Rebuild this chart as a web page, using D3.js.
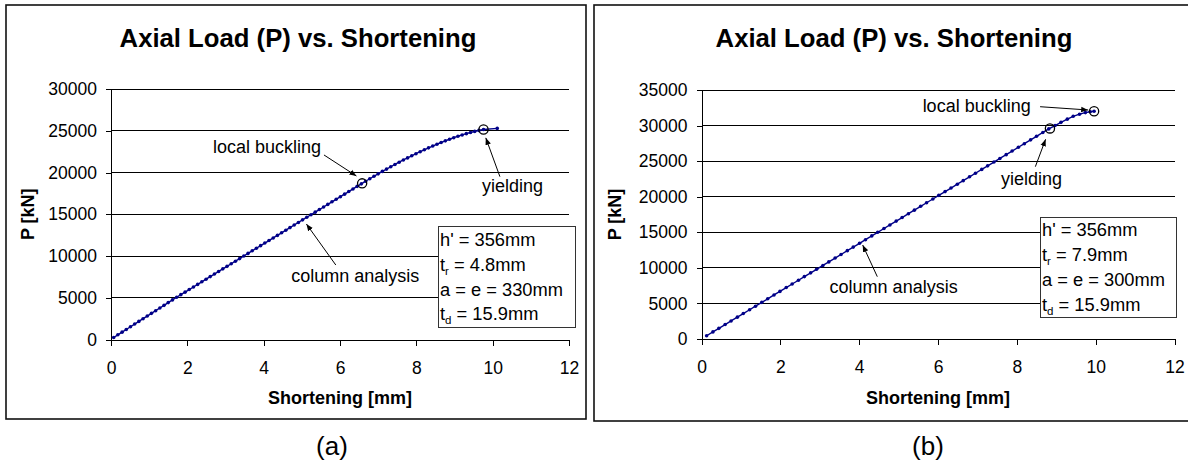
<!DOCTYPE html>
<html lang="en">
<head>
<meta charset="utf-8">
<title>Axial Load (P) vs. Shortening</title>
<script src="https://d3js.org/d3.v7.min.js"></script>
<style>
  body { margin: 0; background: #fff; }
  svg { display: block; font-family: "Liberation Sans", Arial, sans-serif; }
</style>
</head>
<body>
<script>
// (a) shortening [mm] and axial load [kN]
var shortA = [0.07, 0.18, 0.29, 0.40, 0.51, 0.62, 0.73, 0.84, 0.95, 1.06,
  1.17, 1.28, 1.39, 1.50, 1.61, 1.72, 1.83, 1.94, 2.05, 2.16,
  2.27, 2.38, 2.49, 2.60, 2.71, 2.82, 2.93, 3.04, 3.15, 3.26,
  3.37, 3.48, 3.59, 3.70, 3.81, 3.92, 4.03, 4.14, 4.25, 4.36,
  4.47, 4.58, 4.69, 4.80, 4.91, 5.02, 5.13, 5.24, 5.35, 5.46,
  5.57, 5.68, 5.79, 5.90, 6.01, 6.12, 6.23, 6.34, 6.45, 6.56,
  6.67, 6.78, 6.89, 7.00, 7.11, 7.22, 7.33, 7.44, 7.55, 7.66,
  7.77, 7.88, 7.99, 8.10, 8.21, 8.32, 8.43, 8.54, 8.65, 8.76,
  8.87, 8.98, 9.09, 9.20, 9.31, 9.42, 9.53, 9.64, 9.76, 10.12];
var loadA = [240, 560, 880, 1200, 1530, 1850, 2170, 2490, 2810, 3130,
  3450, 3770, 4090, 4420, 4740, 5060, 5370, 5670, 5980, 6290,
  6600, 6910, 7220, 7530, 7840, 8150, 8460, 8760, 9070, 9380,
  9690, 10000, 10310, 10620, 10930, 11240, 11550, 11850, 12160, 12470,
  12780, 13090, 13400, 13710, 14020, 14330, 14640, 14940, 15250, 15560,
  15870, 16180, 16490, 16790, 17100, 17410, 17720, 18030, 18340, 18640,
  18950, 19250, 19550, 19840, 20130, 20410, 20690, 20960, 21230, 21500,
  21750, 22000, 22250, 22490, 22720, 22950, 23170, 23390, 23590, 23790,
  23980, 24170, 24340, 24500, 24650, 24790, 24920, 25040, 25150, 25280];

// (b)
var shortB = [0.13, 0.29, 0.44, 0.60, 0.75, 0.91, 1.06, 1.22, 1.37, 1.53,
  1.68, 1.84, 1.99, 2.15, 2.30, 2.46, 2.61, 2.77, 2.92, 3.08,
  3.23, 3.39, 3.54, 3.70, 3.85, 4.01, 4.16, 4.32, 4.47, 4.63,
  4.78, 4.94, 5.09, 5.25, 5.40, 5.56, 5.71, 5.87, 6.02, 6.18,
  6.33, 6.49, 6.64, 6.80, 6.95, 7.11, 7.26, 7.42, 7.57, 7.73,
  7.88, 8.04, 8.19, 8.35, 8.50, 8.66, 8.81, 8.97, 9.12, 9.28,
  9.43, 9.59, 9.74, 9.86, 9.96];
var loadB = [460, 1000, 1500, 2030, 2540, 3070, 3580, 4110, 4610, 5150,
  5650, 6190, 6690, 7230, 7730, 8260, 8770, 9300, 9800, 10340,
  10840, 11380, 11880, 12420, 12920, 13450, 13960, 14490, 15000, 15530,
  16030, 16570, 17070, 17610, 18110, 18650, 19150, 19680, 20190, 20720,
  21220, 21760, 22260, 22800, 23300, 23840, 24340, 24870, 25380, 25910,
  26420, 26950, 27450, 27990, 28490, 29030, 29530, 30000, 30450, 30900,
  31300, 31600, 31820, 31950, 32020];

var xTicks = [0, 2, 4, 6, 8, 10, 12];
var yTicksA = [0, 5000, 10000, 15000, 20000, 25000, 30000];
var yTicksB = [0, 5000, 10000, 15000, 20000, 25000, 30000, 35000];

// circled points [shortening, load]
var markedA = [[6.58, 18700], [9.76, 25150]];
var markedB = [[8.84, 29600], [9.96, 32020]];

// parameter box lines: [main, subscript, rest]
var paramsA = [["h' = 356mm", "", ""], ["t", "r", " = 4.8mm"], ["a = e = 330mm", "", ""], ["t", "d", " = 15.9mm"]];
var paramsB = [["h' = 356mm", "", ""], ["t", "r", " = 7.9mm"], ["a = e = 300mm", "", ""], ["t", "d", " = 15.9mm"]];

var titleText = "Axial Load (P) vs. Shortening";
var xTitle = "Shortening [mm]";
var yTitle = "P [kN]";

var w = 1188, h = 464;
var navy = "#000088";

var svg = d3.select("body").append("svg")
  .attr("width", w)
  .attr("height", h);

svg.append("defs").append("marker")
  .attr("id", "arrow")
  .attr("viewBox", "0 0 10 10")
  .attr("refX", 10).attr("refY", 5)
  .attr("markerWidth", 7).attr("markerHeight", 7)
  .attr("orient", "auto")
  .append("path")
  .attr("d", "M0,1 L10,5 L0,9 Z")
  .attr("fill", "#000");

var panels = [
  { frame: [6, 5, 580, 414], left: 111, right: 569, top: 89, bottom: 339.5, yMax: 30000,
    yTicks: yTicksA, xs: shortA, ys: loadA, marked: markedA, params: paramsA,
    titleX: 298, yTitleX: 28, caption: "(a)", captionX: 332,
    box: { x: 438, y: 226, w: 137, h: 101, textX: 440, row0: 246, step: 24.8 },
    notes: [
      { text: "local buckling", at: [2.67, 22300], from: [5.58, 22100], to: [6.43, 19580] },
      { text: "yielding", at: [9.72, 17660], from: [10.19, 19500], to: [9.82, 24150] },
      { text: "column analysis", at: [4.72, 6920], from: [5.89, 8920], to: [5.12, 13830] }
    ] },
  { frame: [594, 5, 700, 416], left: 701.5, right: 1174.5, top: 90, bottom: 339, yMax: 35000,
    yTicks: yTicksB, xs: shortB, ys: loadB, marked: markedB, params: paramsB,
    titleX: 894, yTitleX: 615, caption: "(b)", captionX: 928,
    box: { x: 1040, y: 217, w: 136, h: 100, textX: 1042, row0: 236, step: 25 },
    notes: [
      { text: "local buckling", at: [5.61, 31950], from: [8.59, 32650], to: [9.81, 32190] },
      { text: "yielding", at: [7.60, 21650], from: [8.47, 24220], to: [8.73, 28070] },
      { text: "column analysis", at: [3.25, 6420], from: [4.46, 8760], to: [4.09, 13210] }
    ] }
];

panels.forEach(drawPanel);

function drawPanel(p) {
  var g = svg.append("g");

  g.append("rect")
    .attr("x", p.frame[0]).attr("y", p.frame[1])
    .attr("width", p.frame[2]).attr("height", p.frame[3])
    .attr("fill", "none")
    .attr("stroke", "#111")
    .attr("stroke-width", 1.6);

  var x = d3.scaleLinear().domain([0, 12]).range([p.left, p.right]);
  var y = d3.scaleLinear().domain([0, p.yMax]).range([p.bottom, p.top]);

  // horizontal gridlines
  g.append("g").selectAll("line")
    .data(p.yTicks.filter(function(d) { return d > 0; }))
    .join("line")
    .attr("x1", x(0)).attr("x2", x(12))
    .attr("y1", function(d) { return y(d); })
    .attr("y2", function(d) { return y(d); })
    .attr("stroke", "#000")
    .attr("shape-rendering", "crispEdges");

  var xAxis = g.append("g")
    .attr("transform", "translate(0," + y(0) + ")")
    .call(d3.axisBottom(x).tickValues(xTicks).tickSize(6).tickSizeOuter(0)
      .tickPadding(16).tickFormat(d3.format("d")));

  var yAxis = g.append("g")
    .attr("transform", "translate(" + x(0) + ",0)")
    .call(d3.axisLeft(y).tickValues(p.yTicks).tickSize(5).tickSizeOuter(0)
      .tickPadding(9).tickFormat(d3.format("d")));

  [xAxis, yAxis].forEach(function(a) {
    a.attr("font-family", null).attr("font-size", 17.5);
    a.selectAll("path, line").attr("stroke", "#000").attr("shape-rendering", "crispEdges");
    a.selectAll("text").attr("fill", "#000");
  });

  // the curve
  var pts = d3.zip(p.xs, p.ys);
  g.append("path")
    .datum(pts)
    .attr("fill", "none")
    .attr("stroke", navy)
    .attr("stroke-width", 1.4)
    .attr("d", d3.line()
      .x(function(d) { return x(d[0]); })
      .y(function(d) { return y(d[1]); }));

  g.append("g").selectAll("circle")
    .data(pts)
    .join("circle")
    .attr("cx", function(d) { return x(d[0]); })
    .attr("cy", function(d) { return y(d[1]); })
    .attr("r", 1.8)
    .attr("fill", navy);

  g.append("g").selectAll("circle")
    .data(p.marked)
    .join("circle")
    .attr("cx", function(d) { return x(d[0]); })
    .attr("cy", function(d) { return y(d[1]); })
    .attr("r", 4.6)
    .attr("fill", "none")
    .attr("stroke", "#000")
    .attr("stroke-width", 1.3);

  // annotations
  p.notes.forEach(function(n) {
    g.append("text")
      .attr("x", x(n.at[0])).attr("y", y(n.at[1]))
      .attr("font-size", 18)
      .text(n.text);
    g.append("line")
      .attr("x1", x(n.from[0])).attr("y1", y(n.from[1]))
      .attr("x2", x(n.to[0])).attr("y2", y(n.to[1]))
      .attr("stroke", "#000")
      .attr("stroke-width", 1)
      .attr("marker-end", "url(#arrow)");
  });

  // parameter box
  g.append("rect")
    .attr("x", p.box.x).attr("y", p.box.y)
    .attr("width", p.box.w).attr("height", p.box.h)
    .attr("fill", "#fff")
    .attr("stroke", "#333")
    .attr("shape-rendering", "crispEdges");

  p.params.forEach(function(row, i) {
    var t = g.append("text")
      .attr("x", p.box.textX)
      .attr("y", p.box.row0 + i * p.box.step)
      .attr("font-size", 18.3);
    t.append("tspan").text(row[0]);
    if (row[1]) {
      t.append("tspan").attr("font-size", 11.5).attr("dy", 4).text(row[1]);
      t.append("tspan").attr("dy", -4).text(row[2]);
    }
  });

  // titles
  g.append("text")
    .attr("x", p.titleX).attr("y", 46.5)
    .attr("text-anchor", "middle")
    .attr("font-size", 25.7)
    .attr("font-weight", "bold")
    .text(titleText);

  g.append("text")
    .attr("x", (p.left + p.right) / 2).attr("y", 404)
    .attr("text-anchor", "middle")
    .attr("font-size", 18)
    .attr("font-weight", "bold")
    .text(xTitle);

  g.append("text")
    .attr("transform", "translate(" + (p.yTitleX + 6) + "," + ((p.top + p.bottom) / 2) + ") rotate(-90)")
    .attr("text-anchor", "middle")
    .attr("font-size", 18)
    .attr("font-weight", "bold")
    .text(yTitle);

  g.append("text")
    .attr("x", p.captionX).attr("y", 454.5)
    .attr("text-anchor", "middle")
    .attr("font-size", 26)
    .text(p.caption);
}
</script>
</body>
</html>
